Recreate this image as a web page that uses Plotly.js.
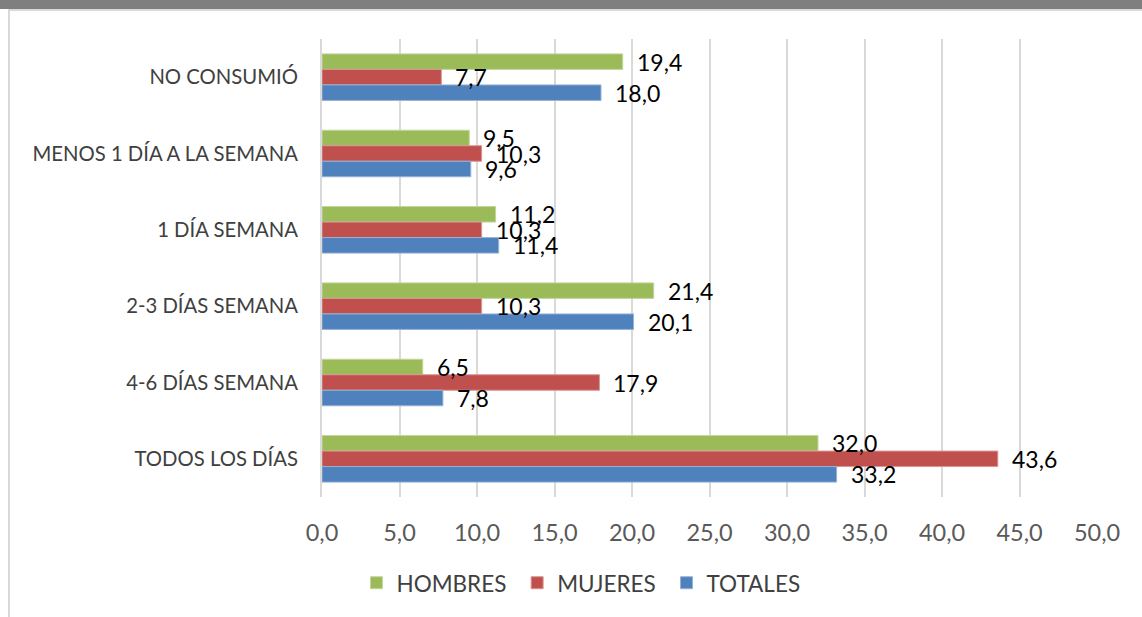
<!DOCTYPE html>
<html>
<head>
<meta charset="utf-8">
<script src="https://cdn.plot.ly/plotly-3.0.1.min.js"></script>
<style>
  html, body { margin: 0; padding: 0; background: #ffffff; }
  #wrap { position: relative; width: 1142px; height: 617px; overflow: hidden; }
  #chart { position: absolute; left: 0; top: 0; width: 1142px; height: 617px; }
  #topbar { position: absolute; left: 0; top: 0; width: 1142px; height: 9px; background: #7f7f7f; pointer-events: none; }
  #topline { position: absolute; left: 8px; top: 9px; width: 1134px; height: 2px; background: #d9d9d9; pointer-events: none; }
  #leftline { position: absolute; left: 8px; top: 9px; width: 2px; height: 608px; background: #d9d9d9; pointer-events: none; }
</style>
</head>
<body>
<div id="wrap">
  <div id="chart"></div>
  <div id="topbar"></div>
  <div id="topline"></div>
  <div id="leftline"></div>
</div>
<script>
const categories = ["NO CONSUMIÓ", "MENOS 1 DÍA A LA SEMANA", "1 DÍA SEMANA", "2-3 DÍAS SEMANA", "4-6 DÍAS SEMANA", "TODOS LOS DÍAS"];
const hombres = [19.4, 9.5, 11.2, 21.4, 6.5, 32.0];
const mujeres = [7.7, 10.3, 10.3, 10.3, 17.9, 43.6];
const totales = [18.0, 9.6, 11.4, 20.1, 7.8, 33.2];
const seriesNames = ["HOMBRES", "MUJERES", "TOTALES"];
const xTicks = [0, 5, 10, 15, 20, 25, 30, 35, 40, 45, 50];

const colors = ["#9BBB59", "#C0504D", "#4F81BD"];
const lineColors = ["#c3d69b", "#d99694", "#95b3d7"];
const seriesData = [hombres, mujeres, totales];

const fmt = v => v.toFixed(1).replace(".", ",");
const FONT = "Lato, 'Open Sans', sans-serif";

const traces = seriesData.map((vals, i) => ({
  type: "bar",
  orientation: "h",
  name: seriesNames[i] + "\u00a0",
  y: categories,
  x: vals,
  marker: { color: colors[i], line: { color: lineColors[i], width: 1 } },
  hoverinfo: "skip"
}));

const shifts = [15.5, 0, -15.5];
const annotations = [];
seriesData.forEach((vals, i) => {
  vals.forEach((v, j) => {
    annotations.push({
      x: v, y: categories[j], xref: "x", yref: "y",
      text: fmt(v), showarrow: false,
      xanchor: "left", yanchor: "middle",
      xshift: 12, yshift: shifts[i],
      font: { family: FONT, size: 23, color: "#000000" }
    });
  });
});

const layout = {
  width: 1142, height: 617,
  margin: { l: 322, r: 45, t: 39, b: 120 },
  paper_bgcolor: "rgba(0,0,0,0)",
  plot_bgcolor: "#ffffff",
  barmode: "group",
  bargap: 0.39,
  bargroupgap: 0,
  showlegend: true,
  legend: {
    orientation: "h",
    x: 0.338, xanchor: "center",
    y: -0.188, yanchor: "middle",
    font: { family: FONT, size: 22.5, color: "#404040" },
    itemwidth: 30,
    traceorder: "normal"
  },
  xaxis: {
    range: [0, 50],
    tickvals: xTicks,
    ticktext: xTicks.map(fmt),
    showgrid: true, gridcolor: "#d9d9d9", gridwidth: 2,
    zeroline: false, showline: false,
    ticks: "",
    ticklabelstandoff: 19,
    tickfont: { family: FONT, size: 23.5, color: "#595959" },
    fixedrange: true
  },
  yaxis: {
    type: "category",
    autorange: "reversed",
    showgrid: false, zeroline: false,
    showline: true, linecolor: "#d9d9d9", linewidth: 2,
    ticks: "",
    ticklabelstandoff: 18,
    tickfont: { family: FONT, size: 20.3, color: "#404040" },
    fixedrange: true
  },
  annotations: annotations
};

Plotly.newPlot("chart", traces, layout, { displayModeBar: false, staticPlot: true });
</script>
</body>
</html>
